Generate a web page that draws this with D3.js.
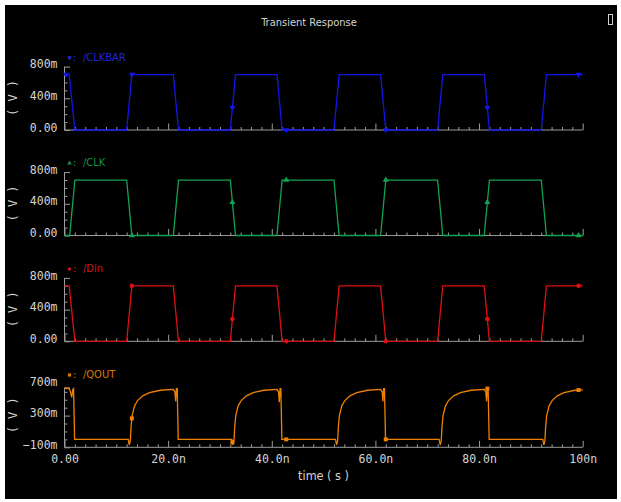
<!DOCTYPE html>
<html>
<head>
<meta charset="utf-8">
<script src="https://cdn.jsdelivr.net/npm/d3@7"></script>
<style>
  body { margin: 0; background: #fff; }
  text { font-family: "DejaVu Sans Mono", monospace; }
</style>
</head>
<body>
<div id="container"></div>
<script>
// time in ns, values in V
const clkbarT = [0, 0.9, 2, 12, 13, 21, 22, 32, 33, 41, 42, 52, 53, 61, 62, 72, 73, 81, 82, 92, 93, 100];
const clkbarV = [0.7, 0.7, 0, 0, 0.7, 0.7, 0, 0, 0.7, 0.7, 0, 0, 0.7, 0.7, 0, 0, 0.7, 0.7, 0, 0, 0.7, 0.7];

const clkT = [0, 1, 2, 12, 13, 21, 22, 32, 33, 41, 42, 52, 53, 61, 62, 72, 73, 81, 82, 92, 93, 100];
const clkV = [0, 0, 0.7, 0.7, 0, 0, 0.7, 0.7, 0, 0, 0.7, 0.7, 0, 0, 0.7, 0.7, 0, 0, 0.7, 0.7, 0, 0];

const dinT = [0, 0.9, 2, 12, 13, 21, 22, 32, 33, 41, 42, 52, 53, 61, 62, 72, 73, 81, 82, 92, 93, 100];
const dinV = [0.7, 0.7, 0, 0, 0.7, 0.7, 0, 0, 0.7, 0.7, 0, 0, 0.7, 0.7, 0, 0, 0.7, 0.7, 0, 0, 0.7, 0.7];

const qoutT = [0, 0.9, 1.15, 1.4, 1.6, 1.75, 1.95,
  12.3, 12.5, 12.7, 12.85, 13.05, 13.5, 14.1, 15.1, 16.4, 18.5, 21.0, 21.3, 21.45, 21.6, 21.75, 21.95,
  32.3, 32.5, 32.7, 32.85, 33.05, 33.5, 34.1, 35.1, 36.4, 38.5, 41.0, 41.3, 41.45, 41.6, 41.75, 41.95,
  52.3, 52.5, 52.7, 52.85, 53.05, 53.5, 54.1, 55.1, 56.4, 58.5, 61.0, 61.3, 61.45, 61.6, 61.75, 61.95,
  72.3, 72.5, 72.7, 72.85, 73.05, 73.5, 74.1, 75.1, 76.4, 78.5, 81.0, 81.3, 81.45, 81.6, 81.75, 81.95,
  92.3, 92.5, 92.7, 92.85, 93.05, 93.5, 94.1, 95.1, 96.4, 98.5, 100];
const qoutV = [0.645, 0.64, 0.60, 0.53, 0.63, 0.64, 0.0,
  0.0, -0.07, -0.02, 0.16, 0.30, 0.42, 0.49, 0.55, 0.59, 0.62, 0.63, 0.60, 0.48, 0.64, 0.64, 0.0,
  0.0, -0.07, -0.02, 0.16, 0.30, 0.42, 0.49, 0.55, 0.59, 0.62, 0.63, 0.60, 0.47, 0.64, 0.64, 0.0,
  0.0, -0.07, -0.02, 0.16, 0.30, 0.42, 0.49, 0.55, 0.59, 0.62, 0.63, 0.60, 0.48, 0.64, 0.64, 0.0,
  0.0, -0.07, -0.02, 0.16, 0.30, 0.42, 0.49, 0.55, 0.59, 0.62, 0.63, 0.60, 0.48, 0.64, 0.64, 0.0,
  0.0, -0.07, -0.02, 0.16, 0.30, 0.42, 0.49, 0.55, 0.59, 0.62, 0.625];

// marker times along each trace
const clkbarMarks = [0.3, 13, 32.4, 42.8, 62, 81.6, 99.2];
const clkMarks = [13, 32.4, 42.8, 62, 81.6, 99.2];
const dinMarks = [13, 32.4, 42.8, 62, 81.6, 99.2];
const qoutMarks = [13, 32.4, 42.8, 62, 81.6, 99.2];

const xMajor = [0, 20, 40, 60, 80, 100];
const xLabels = ["0.00", "20.0n", "40.0n", "60.0n", "80.0n", "100n"];
const vMajor = [0, 0.4, 0.8];
const vLabels = ["0.00", "400m", "800m"];
const vMinor = [0.1, 0.2, 0.3, 0.5, 0.6, 0.7];
const qMajor = [-0.1, 0.3, 0.7];
const qLabels = ["\u2212100m", "300m", "700m"];
const qMinor = [0, 0.1, 0.2, 0.4, 0.5, 0.6];

const w = 621, h = 502;
const axisCol = "#9c9c9c";
const textCol = "#d4d4d4";

const panels = [
  {name: "/CLKBAR", t: clkbarT, v: clkbarV, marks: clkbarMarks, color: "#1414ec", lab: "#2424d8",
   sym: "down", major: vMajor, labels: vLabels, minor: vMinor, dom: [0, 0.8], top: 0.8, base: 130},
  {name: "/CLK", t: clkT, v: clkV, marks: clkMarks, color: "#12a452", lab: "#14904a",
   sym: "up", major: vMajor, labels: vLabels, minor: vMinor, dom: [0, 0.8], top: 0.8, base: 235.5},
  {name: "/Din", t: dinT, v: dinV, marks: dinMarks, color: "#dc1010", lab: "#cc1818",
   sym: "circle", major: vMajor, labels: vLabels, minor: vMinor, dom: [0, 0.8], top: 0.8, base: 341.3},
  {name: "/QOUT", t: qoutT, v: qoutV, marks: qoutMarks, color: "#f08000", lab: "#dc7a00",
   sym: "square", major: qMajor, labels: qLabels, minor: qMinor, dom: [-0.1, 0.7], top: 0.65, base: 447.3}
];
const span = 63.4;

const svg = d3.select("#container").append("svg")
  .attr("width", w).attr("height", h);

svg.append("rect").attr("x", 5).attr("y", 5)
  .attr("width", 612).attr("height", 494).attr("fill", "#000");

// title
svg.append("text").attr("x", 309).attr("y", 26)
  .attr("text-anchor", "middle")
  .style("font-family", "'DejaVu Sans Condensed', 'DejaVu Sans', sans-serif")
  .style("font-size", "11px").attr("fill", textCol)
  .text("Transient Response");

// little icon top right
svg.append("rect").attr("x", 608.5).attr("y", 14.5).attr("width", 4).attr("height", 10)
  .attr("fill", "none").attr("stroke", "#cfcfcf").attr("stroke-width", 1);

const x = d3.scaleLinear().domain([0, 100]).range([64.5, 582.7]);

function symbolPath(kind, size) {
  if (kind === "circle") return d3.symbol(d3.symbolCircle, size)();
  if (kind === "square") return d3.symbol(d3.symbolSquare, size)();
  return d3.symbol(d3.symbolTriangle, size)();
}

panels.forEach((p, i) => {
  const y = d3.scaleLinear().domain(p.dom).range([p.base, p.base - span]);
  const g = svg.append("g");
  const last = i === panels.length - 1;

  // x axis: minor then major ticks
  const xMinor = d3.range(2, 100, 2).filter(d => d % 20 !== 0);
  const gxm = g.append("g").attr("transform", "translate(0," + p.base + ")")
    .call(d3.axisBottom(x).tickValues(xMinor).tickSizeInner(-3).tickSizeOuter(0).tickFormat(""));
  const gx = g.append("g").attr("transform", "translate(0," + p.base + ")")
    .call(d3.axisBottom(x).tickValues(xMajor).tickSizeInner(-6.5).tickSizeOuter(0).tickPadding(8)
      .tickFormat((d, k) => last ? xLabels[k] : ""));
  [gxm, gx].forEach(a => {
    a.select(".domain").remove();
    a.selectAll("line").attr("stroke", axisCol);
    a.selectAll("text").attr("fill", textCol).style("font-size", "11.5px")
      .style("font-family", "'DejaVu Sans Mono', monospace");
  });
  g.append("line").attr("x1", x(0)).attr("x2", x(100)).attr("y1", p.base).attr("y2", p.base)
    .attr("stroke", axisCol);

  // y axis
  const gym = g.append("g").attr("transform", "translate(" + x(0) + ",0)")
    .call(d3.axisLeft(y).tickValues(p.minor).tickSizeInner(-3).tickSizeOuter(0).tickFormat(""));
  const gy = g.append("g").attr("transform", "translate(" + x(0) + ",0)")
    .call(d3.axisLeft(y).tickValues(p.major).tickSizeInner(-5.5).tickSizeOuter(0).tickPadding(7)
      .tickFormat((d, k) => p.labels[k]));
  [gym, gy].forEach(a => {
    a.select(".domain").remove();
    a.selectAll("line").attr("stroke", axisCol);
    a.selectAll("text").attr("fill", textCol).attr("dy", "0.1em").style("font-size", "11.5px")
      .style("font-family", "'DejaVu Sans Mono', monospace");
  });
  gy.selectAll(".tick").filter(d => d > p.top + 1e-9).select("line").remove();
  if (p.top < p.dom[1]) {
    g.append("line").attr("x1", x(0)).attr("x2", x(0) + 5.5)
      .attr("y1", y(p.top)).attr("y2", y(p.top)).attr("stroke", axisCol);
  }
  g.append("line").attr("x1", x(0)).attr("x2", x(0))
    .attr("y1", y(p.dom[0])).attr("y2", y(p.top)).attr("stroke", axisCol);

  // y label
  g.append("text")
    .attr("transform", "translate(12.7," + (p.base - 32) + ") rotate(-90)")
    .attr("text-anchor", "middle").attr("dy", "0.35em")
    .style("font-size", "12px").attr("fill", textCol)
    .text("( V )");

  // trace
  const pts = d3.zip(p.t, p.v);
  g.append("path").datum(pts)
    .attr("d", d3.line().x(d => x(d[0])).y(d => y(d[1])))
    .attr("fill", "none").attr("stroke", p.color).attr("stroke-width", 1.3);

  // markers
  const interp = d3.scaleLinear().domain(p.t).range(p.v);
  g.selectAll("path.mk").data(p.marks).enter().append("path")
    .attr("class", "mk")
    .attr("d", symbolPath(p.sym, 16))
    .attr("transform", d => "translate(" + x(d) + "," + y(interp(d)) + ")" + (p.sym === "down" ? " rotate(180)" : ""))
    .attr("fill", p.color);

  // legend label
  const ly = p.base - 69.3;
  g.append("path").attr("d", symbolPath(p.sym, 10))
    .attr("transform", "translate(69.5," + (ly - 3) + ")" + (p.sym === "down" ? " rotate(180)" : ""))
    .attr("fill", p.lab);
  g.append("text").attr("x", 73).attr("y", ly)
    .style("font-family", "'DejaVu Sans Condensed', 'DejaVu Sans', sans-serif")
    .style("font-size", "11px").attr("fill", p.lab)
    .text(":");
  g.append("text").attr("x", 83).attr("y", ly)
    .style("font-family", "'DejaVu Sans Condensed', 'DejaVu Sans', sans-serif")
    .style("font-size", "11px").attr("fill", p.lab)
    .text(p.name);
});

// x axis title
svg.append("text").attr("x", 323.5).attr("y", 479.5)
  .attr("text-anchor", "middle")
  .style("font-family", "'DejaVu Sans Condensed', 'DejaVu Sans', sans-serif")
  .style("font-size", "12.5px").attr("fill", textCol)
  .text("time ( s )");
</script>
</body>
</html>
